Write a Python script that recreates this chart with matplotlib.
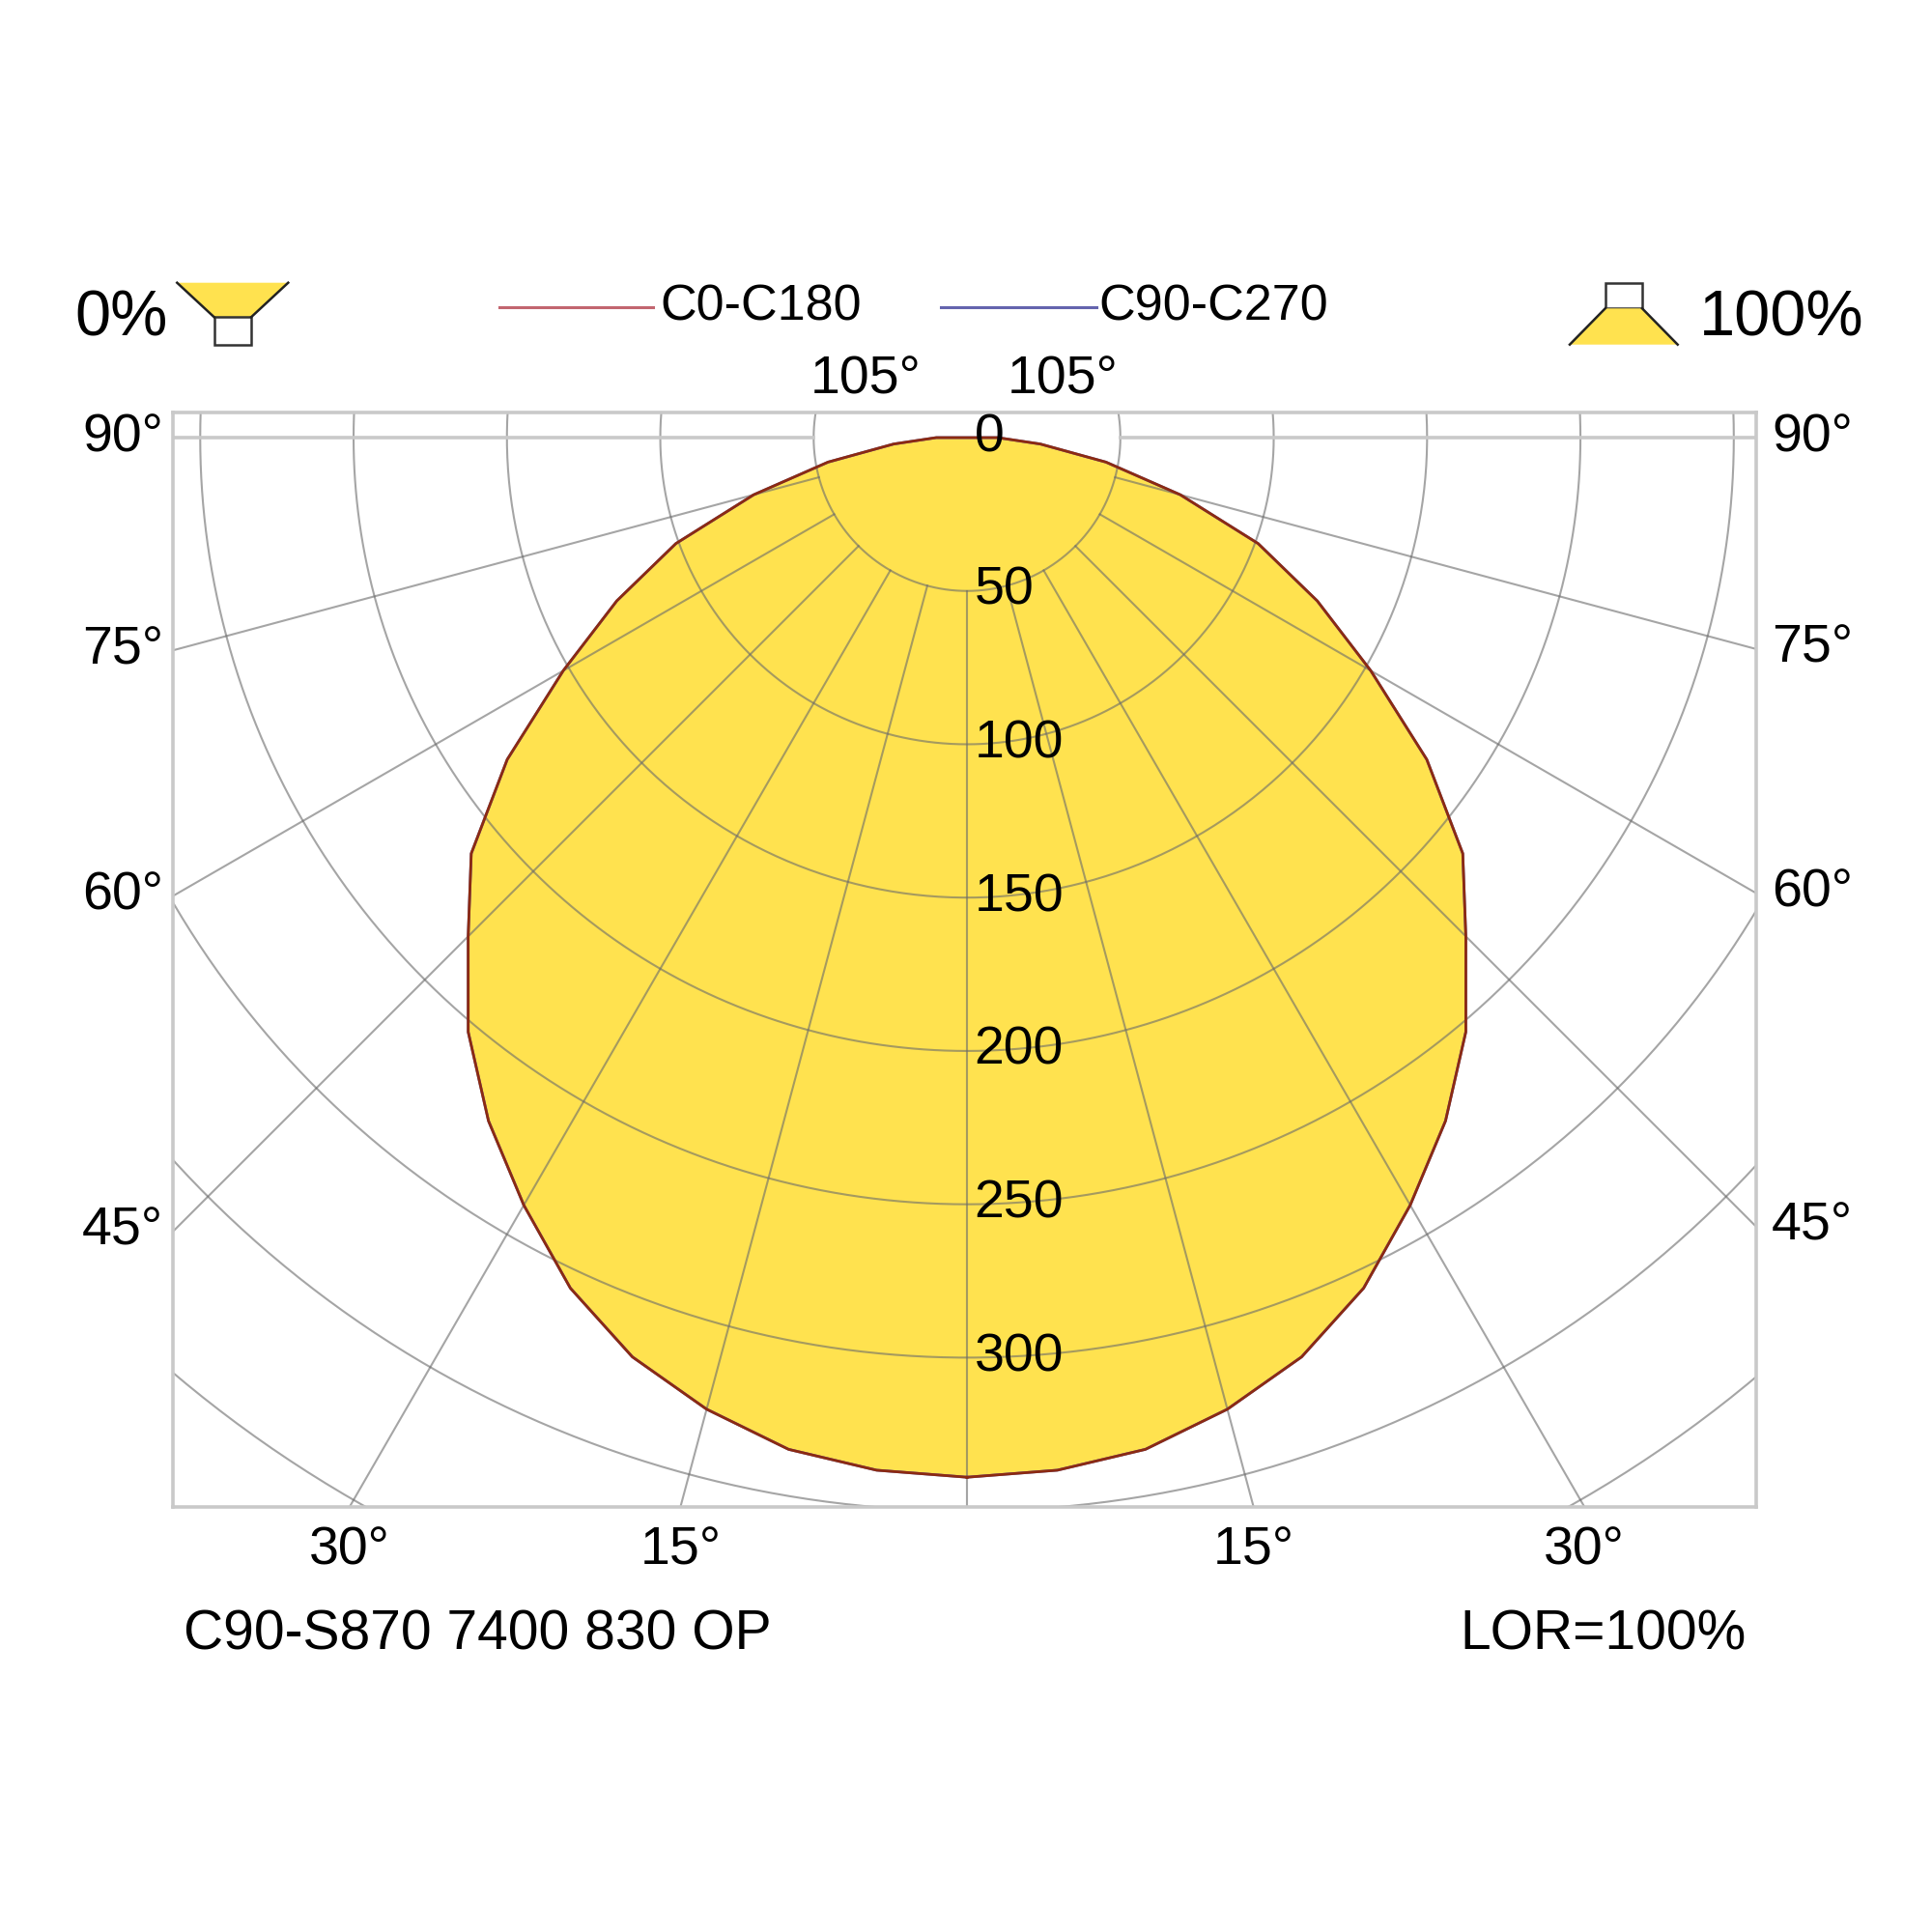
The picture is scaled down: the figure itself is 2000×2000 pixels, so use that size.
import numpy as np
import matplotlib
matplotlib.use("Agg")
import matplotlib.pyplot as plt
from matplotlib.patches import Polygon, Rectangle

plt.rcParams['font.family'] = ['Liberation Sans', 'DejaVu Sans']

# polar intensity data (cd/klm), gamma measured from nadir
gamma = [0, 5, 10, 15, 20, 25, 30, 35, 40, 45, 50, 55, 60, 65, 70, 75, 80, 85, 90,
         95, 100, 105, 110, 115, 120, 125, 130, 135, 140, 145, 150, 155, 160, 165,
         170, 175, 180]
c0_c180 = [339, 338, 335, 328, 319, 306, 289, 272, 253, 230, 211, 183, 152, 126,
           101, 72, 46, 24, 10, 0, 0, 0, 0, 0, 0, 0, 0, 0, 0, 0, 0, 0, 0, 0, 0, 0, 0]
c90_c270 = [339, 338, 335, 328, 319, 306, 289, 272, 253, 230, 211, 183, 152, 126,
            101, 72, 46, 24, 10, 0, 0, 0, 0, 0, 0, 0, 0, 0, 0, 0, 0, 0, 0, 0, 0, 0, 0]

ring_values = [0, 50, 100, 150, 200, 250, 300]
side_angles = [45, 60, 75, 90]
bottom_angles = [15, 30]
top_angles = [105]

plane_names = ["C0-C180", "C90-C270"]
luminaire_name = "C90-S870 7400 830 OP"
lor_text = "LOR=100%"

fill_col = '#FFE24F'
grid_col = '#6A6A6A'
frame_col = '#C9C9C9'
red_col = '#8C2A12'
blue_col = '#6464AE'

fig = plt.figure(figsize=(20, 20), dpi=100)

# overlay in pixel coordinates for header/footer decoration
ov = fig.add_axes([0, 0, 1, 1])
ov.set_xlim(0, 2000)
ov.set_ylim(2000, 0)
ov.axis('off')

ax = fig.add_axes([179 / 2000, 1 - 1560 / 2000, 1639 / 2000, (1560 - 426.5) / 2000])
xl, xr = -258.9, 257.3
yb, yt = -348.7, 8.35
ax.set_xlim(xl, xr)
ax.set_ylim(yb, yt)
ax.set_xticks([])
ax.set_yticks([])
for s in ax.spines.values():
    s.set_color(frame_col)
    s.set_linewidth(2.6)


def curve(vals):
    g = np.radians(gamma)
    v = np.array(vals, dtype=float)
    x = v * np.sin(g)
    y = -v * np.cos(g)
    return np.concatenate([x, -x[::-1]]), np.concatenate([y, y[::-1]])


# fill
xc, yc = curve(c0_c180)
ax.add_patch(Polygon(np.column_stack([xc, yc]), closed=True, facecolor=fill_col,
                     edgecolor='none', zorder=1))

# rings
t = np.linspace(0, 2 * np.pi, 721)
for r in range(50, 551, 50):
    ax.plot(r * np.cos(t), r * np.sin(t), color=grid_col, lw=1.5, alpha=0.6, zorder=2)

# radial lines every 15 degrees, starting at the 50 ring
for a in range(0, 181, 15):
    ar = np.radians(a)
    for sgn in (-1, 1):
        if a == 0 and sgn == 1:
            continue
        xs = [sgn * 50 * np.sin(ar), sgn * 700 * np.sin(ar)]
        ys = [-50 * np.cos(ar), -700 * np.cos(ar)]
        if a == 90:
            ax.plot(xs, ys, color=frame_col, lw=2.6, zorder=2)
        else:
            ax.plot(xs, ys, color=grid_col, lw=1.5, alpha=0.6, zorder=2)

# intensity curves
xb, yb2 = curve(c90_c270)
ax.plot(xb, yb2, color=blue_col, lw=2.0, zorder=3)
ax.plot(xc, yc, color=red_col, lw=2.0, zorder=4)

# ring labels
for v in ring_values:
    ax.text(2.4, -v, str(v), ha='left', va='center', fontsize=40, zorder=5)

# side angle labels
for a in side_angles:
    ar = np.radians(a)
    yl = 0.0 if a == 90 else -abs(xl) * np.cos(ar) / np.sin(ar)
    ax.annotate(f"{a}°", xy=(xl, yl), xytext=(-10, 0), textcoords='offset pixels',
                ha='right', va='center', fontsize=40, annotation_clip=False)
    yr = 0.0 if a == 90 else -abs(xr) * np.cos(ar) / np.sin(ar)
    ax.annotate(f"{a}°", xy=(xr, yr), xytext=(16, 0), textcoords='offset pixels',
                ha='left', va='center', fontsize=40, annotation_clip=False)

# bottom angle labels
for a in bottom_angles:
    xa = abs(yb) * np.tan(np.radians(a))
    for sgn in (-1, 1):
        ax.annotate(f"{a}°", xy=(sgn * xa, yb), xytext=(0, -45), textcoords='offset pixels',
                    ha='center', va='center', fontsize=40, annotation_clip=False)

# top angle labels
for a in top_angles:
    xa = yt / np.tan(np.radians(a - 90))
    for sgn in (-1, 1):
        dx = -6 if sgn < 0 else 0
        ax.annotate(f"{a}°", xy=(sgn * xa, yt), xytext=(dx, 33), textcoords='offset pixels',
                    ha='center', va='center', fontsize=40, annotation_clip=False)

# legend
ov.plot([516.6, 675.6], [318, 318], color='#C26670', lw=2.2)
ov.text(683, 318, plane_names[0], ha='left', va='center', fontsize=37.5)
ov.plot([974, 1134.6], [318, 318], color=blue_col, lw=2.2)
ov.text(1137, 318, plane_names[1], ha='left', va='center', fontsize=37.5)

# percentage labels with luminaire icons
ov.text(77, 331, "0%", ha='left', va='center', fontsize=48)
ov.text(1759, 331, "100%", ha='left', va='center', fontsize=48)

ov.add_patch(Polygon([(183.3, 292.7), (298.3, 292.7), (260, 328.3), (221.7, 328.3)],
                     closed=True, facecolor=fill_col, edgecolor='none'))
ov.plot([183.3, 221.7], [292.7, 328.3], color='#222222', lw=1.8)
ov.plot([298.3, 260], [292.7, 328.3], color='#222222', lw=1.8)
ov.add_patch(Rectangle((221.7, 328.3), 38.3, 28.4, facecolor='white',
                       edgecolor='#333333', lw=1.8))

ov.add_patch(Rectangle((1661.7, 293.3), 38.3, 26.0, facecolor='white',
                       edgecolor='#333333', lw=1.8))
ov.add_patch(Polygon([(1661.7, 319.3), (1700, 319.3), (1736.7, 356.7), (1625, 356.7)],
                     closed=True, facecolor=fill_col, edgecolor='none'))
ov.plot([1661.7, 1625], [319.3, 356.7], color='#222222', lw=1.8)
ov.plot([1700, 1736.7], [319.3, 356.7], color='#222222', lw=1.8)

# footer
ov.text(189.7, 1692, luminaire_name, ha='left', va='center', fontsize=41)
ov.text(1808, 1692, lor_text, ha='right', va='center', fontsize=41)

fig.savefig("out.png", dpi=100)
